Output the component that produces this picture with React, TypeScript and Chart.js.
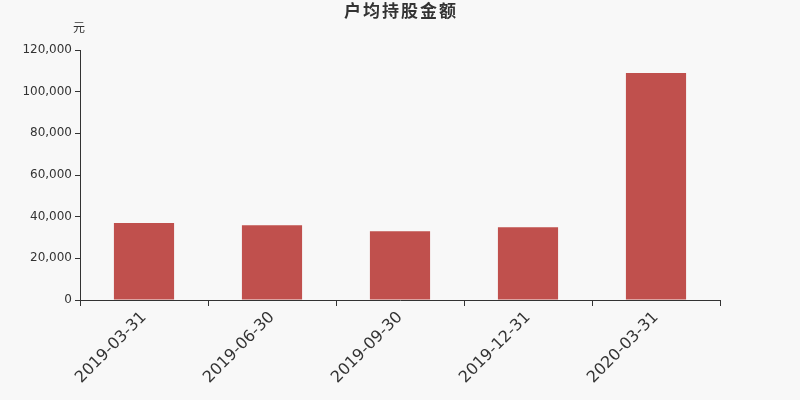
import { useEffect, useRef } from "react";
import { Chart, registerables } from "chart.js";

Chart.register(...registerables);

const categories = ["2019-03-31", "2019-06-30", "2019-09-30", "2019-12-31", "2020-03-31"];
const values = [37000, 35900, 33000, 34900, 109000];
const yTicks = [0, 20000, 40000, 60000, 80000, 100000, 120000];

const TITLE = "户均持股金额";
const UNIT = "元";
const FONT = '"DejaVu Sans", "Noto Sans CJK SC", sans-serif';

const decor = {
  id: "decor",
  beforeDraw(chart: Chart) {
    const { ctx, width, height } = chart;
    ctx.save();
    ctx.fillStyle = "#f8f8f8";
    ctx.fillRect(0, 0, width, height);
    ctx.restore();
  },
  afterDraw(chart: Chart) {
    const { ctx } = chart;
    ctx.save();
    ctx.fillStyle = "#333";
    ctx.textBaseline = "middle";
    ctx.textAlign = "center";
    ctx.font = `bold 17px ${FONT}`;
    (ctx as any).letterSpacing = "2px";
    ctx.fillText(TITLE, 401, 13);
    (ctx as any).letterSpacing = "0px";
    ctx.font = `12px ${FONT}`;
    ctx.textAlign = "right";
    ctx.fillText(UNIT, 85, 29);
    ctx.restore();
  },
};

const App = () => {
  const canvasRef = useRef<HTMLCanvasElement | null>(null);
  const chartRef = useRef<Chart | null>(null);

  useEffect(() => {
    document.body.style.margin = "0";
    document.body.style.background = "#f8f8f8";
    if (!canvasRef.current) return;
    const ctx = canvasRef.current.getContext("2d");
    if (!ctx) return;

    chartRef.current = new Chart(ctx, {
      type: "bar",
      data: {
        labels: categories,
        datasets: [
          {
            data: values,
            backgroundColor: "#c0504d",
            borderWidth: 0,
            categoryPercentage: 1,
            barPercentage: 0.47,
          },
        ],
      },
      options: {
        animation: false,
        responsive: true,
        maintainAspectRatio: false,
        layout: { padding: { left: 0, right: 80, top: 50, bottom: 0 } },
        plugins: {
          legend: { display: false },
          tooltip: { enabled: false },
          title: { display: false },
        },
        scales: {
          x: {
            offset: true,
            grid: {
              offset: true,
              drawOnChartArea: false,
              drawTicks: true,
              tickLength: 6,
              color: "#333",
            },
            border: { color: "#333", width: 1 },
            ticks: {
              color: "#333",
              font: { family: FONT, size: 16 },
              minRotation: 45,
              maxRotation: 45,
              padding: 2,
              autoSkip: false,
            },
            afterFit: (scale: any) => {
              scale.height = 100;
            },
          },
          y: {
            min: 0,
            max: 120000,
            afterBuildTicks: (scale: any) => {
              scale.ticks = yTicks.map((v) => ({ value: v }));
            },
            grid: {
              drawOnChartArea: false,
              drawTicks: true,
              tickLength: 5,
              color: "#333",
            },
            border: { color: "#333", width: 1 },
            ticks: {
              color: "#333",
              font: { family: FONT, size: 12 },
              padding: 3,
              callback: (v: any) => Number(v).toLocaleString("en-US"),
            },
            afterFit: (scale: any) => {
              scale.width = 80;
            },
          },
        },
      },
      plugins: [decor],
    });

    return () => {
      chartRef.current?.destroy();
    };
  }, []);

  return (
    <div style={{ width: 800, height: 400 }}>
      <canvas ref={canvasRef} />
    </div>
  );
};

export default App;
